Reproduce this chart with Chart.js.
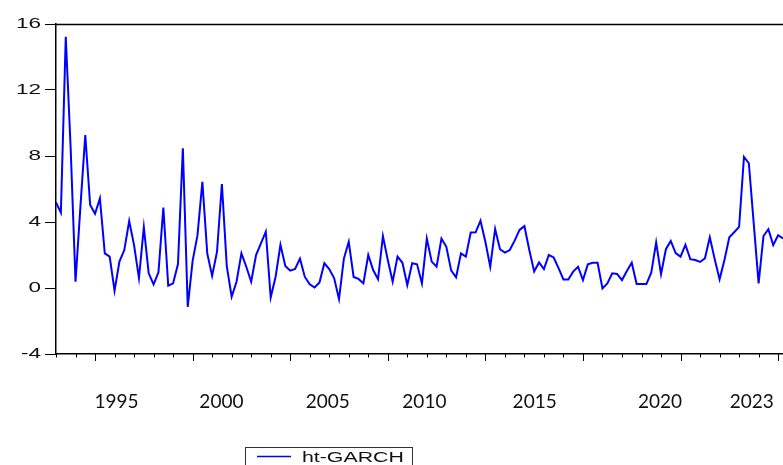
<!DOCTYPE html>
<html>
<head>
<meta charset="utf-8">
<script src="https://cdn.jsdelivr.net/npm/chart.js@4.4.1/dist/chart.umd.min.js"></script>
<style>
  html, body { margin: 0; padding: 0; background: #fff; }
  #wrap { width: 783px; height: 465px; }
</style>
</head>
<body>
<div id="wrap"><canvas id="chart" width="783" height="465"></canvas></div>
<script>
const htGarch = [
  5.19, 4.57, 15.23, 8.5, 0.38, 4.9, 9.27, 5.03, 4.5, 5.43,
  2.1, 1.9, -0.16, 1.6, 2.3, 4.06, 2.6, 0.6, 3.68, 0.89,
  0.22, 0.95, 4.87, 0.14, 0.28, 1.45, 8.47, -1.15, 1.65, 3.2,
  6.44, 2.1, 0.73, 2.2, 6.3, 1.33, -0.53, 0.38, 2.1, 1.29,
  0.38, 2.0, 2.7, 3.41, -0.57, 0.67, 2.62, 1.34, 1.05, 1.15,
  1.78, 0.67, 0.23, 0.03, 0.33, 1.5, 1.15, 0.6, -0.67, 1.78,
  2.8, 0.67, 0.55, 0.28, 2.0, 1.09, 0.53, 3.15, 1.7, 0.38,
  1.9, 1.53, 0.18, 1.5, 1.44, 0.28, 3.0, 1.6, 1.29, 3.0,
  2.5, 1.05, 0.65, 2.1, 1.9, 3.36, 3.37, 4.08, 2.8, 1.29,
  3.58, 2.35, 2.14, 2.3, 2.87, 3.52, 3.75, 2.3, 1.0, 1.55,
  1.15, 2.0, 1.85, 1.2, 0.52, 0.52, 0.99, 1.29, 0.48, 1.44,
  1.53, 1.53, -0.02, 0.28, 0.89, 0.85, 0.48, 1.03, 1.53, 0.24,
  0.24, 0.24, 0.93, 2.76, 0.84, 2.35, 2.85, 2.12, 1.9, 2.62,
  1.75, 1.7, 1.58, 1.8, 3.07, 1.75, 0.53, 1.7, 3.07, 3.38,
  3.7, 7.94, 7.56, 3.92, 0.28, 3.15, 3.56, 2.6, 3.2, 3.0
];
const seriesName = 'ht-GARCH';
const yearLabels = ['1995', '2000', '2005', '2010', '2015', '2020', '2023'];
const yearAt = [12.4, 33.9, 55.7, 75.5, 98.1, 123.8, 142.6]; // observation index under each label
const yMin = -4, yMax = 16, yStep = 4;

const points = htGarch.map((v, i) => ({ x: i, y: v }));

// frame top line, x tick marks, stretched y labels and boxed legend (EViews look)
const eviewsLook = {
  id: 'eviewsLook',
  afterDraw(chart) {
    const ctx = chart.ctx;
    const area = chart.chartArea;
    const xs = chart.scales.x, ys = chart.scales.y;
    ctx.save();
    ctx.strokeStyle = '#000';
    ctx.lineWidth = 1.5;
    ctx.beginPath();
    ctx.moveTo(area.left, area.top + 0.5);
    ctx.lineTo(chart.width, area.top + 0.5);
    ctx.stroke();

    // small ticks each 4 obs, long ones each 20
    ctx.lineWidth = 1;
    for (let i = 0; i < htGarch.length; i += 4) {
      const px = Math.round(xs.getPixelForValue(i)) + 0.5;
      const len = (i - 8) % 20 === 0 ? 7 : 3.5;
      ctx.beginPath();
      ctx.moveTo(px, area.bottom);
      ctx.lineTo(px, area.bottom + len);
      ctx.stroke();
    }

    ctx.fillStyle = '#111';
    ctx.font = '15px "Liberation Sans", Arial, sans-serif';
    ctx.textAlign = 'right';
    ctx.textBaseline = 'middle';
    ys.ticks.forEach(t => {
      const py = ys.getPixelForValue(t.value);
      ctx.save();
      ctx.translate(41, py);
      ctx.scale(1.5, 1);
      ctx.fillText(String(t.value), 0, 0);
      ctx.restore();
    });

    // legend box
    ctx.strokeStyle = '#333';
    ctx.lineWidth = 1;
    ctx.strokeRect(245.5, 447.5, 167, 24);
    ctx.strokeStyle = '#0000ff';
    ctx.lineWidth = 1.5;
    ctx.beginPath();
    ctx.moveTo(257, 456.5);
    ctx.lineTo(291, 456.5);
    ctx.stroke();
    ctx.fillStyle = '#111';
    ctx.textAlign = 'left';
    ctx.textBaseline = 'alphabetic';
    ctx.save();
    ctx.translate(302, 462);
    ctx.scale(1.42, 1);
    ctx.fillText(seriesName, 0, 0);
    ctx.restore();
    ctx.restore();
  }
};

new Chart(document.getElementById('chart'), {
  type: 'line',
  data: {
    datasets: [{
      label: seriesName,
      data: points,
      borderColor: '#0000ff',
      borderWidth: 2,
      pointRadius: 0,
      tension: 0,
      fill: false
    }]
  },
  options: {
    responsive: false,
    animation: false,
    layout: { padding: { top: 24, right: 0, bottom: 0, left: 0 } },
    plugins: {
      legend: { display: false },
      tooltip: { enabled: false }
    },
    scales: {
      x: {
        type: 'linear',
        min: 0,
        max: htGarch.length - 1,
        afterBuildTicks: s => { s.ticks = yearAt.map(v => ({ value: v })); },
        afterFit: s => { s.height = 111; s.paddingLeft = 0; s.paddingRight = 0; },
        ticks: {
          autoSkip: false,
          maxRotation: 0,
          padding: 36,
          color: '#111',
          font: { family: 'Lato, "Open Sans", sans-serif', size: 19 },
          callback: (v, i) => yearLabels[i]
        },
        grid: { display: false, drawTicks: false },
        border: { display: true, color: '#000', width: 1.5 }
      },
      y: {
        min: yMin,
        max: yMax,
        afterFit: s => { s.width = 56; s.paddingTop = 0; s.paddingBottom = 0; },
        ticks: { stepSize: yStep, display: false },
        grid: { drawOnChartArea: false, drawTicks: true, tickLength: 11, tickColor: '#000', tickWidth: 1 },
        border: { display: true, color: '#000', width: 1.5 }
      }
    }
  },
  plugins: [eviewsLook]
});
</script>
</body>
</html>
